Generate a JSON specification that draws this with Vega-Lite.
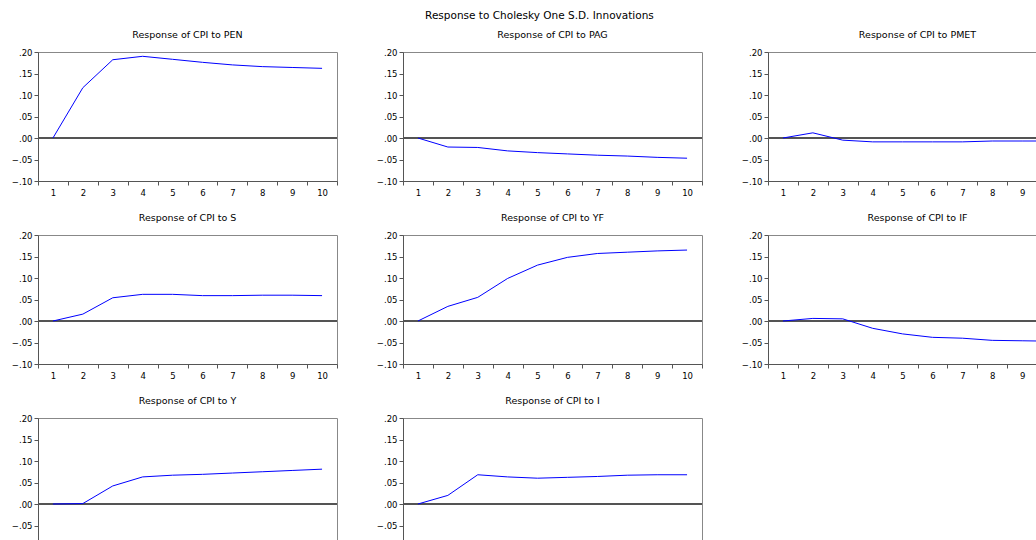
{
  "$schema": "https://vega.github.io/schema/vega-lite/v6.json",
  "padding": {"left": 10, "top": 10, "right": 0, "bottom": 0},
  "background": "white",
  "title": {"text": "Response to Cholesky One S.D. Innovations", "anchor": "middle", "fontSize": 10.5, "fontWeight": "normal", "font": "DejaVu Sans", "color": "#000", "offset": 8},
  "data": {"values": [
    {"shock": "PEN", "step": 1, "value": 0.000}, {"shock": "PEN", "step": 2, "value": 0.117}, {"shock": "PEN", "step": 3, "value": 0.182}, {"shock": "PEN", "step": 4, "value": 0.190}, {"shock": "PEN", "step": 5, "value": 0.183}, {"shock": "PEN", "step": 6, "value": 0.176}, {"shock": "PEN", "step": 7, "value": 0.170}, {"shock": "PEN", "step": 8, "value": 0.166}, {"shock": "PEN", "step": 9, "value": 0.164}, {"shock": "PEN", "step": 10, "value": 0.162},
    {"shock": "PAG", "step": 1, "value": 0.000}, {"shock": "PAG", "step": 2, "value": -0.021}, {"shock": "PAG", "step": 3, "value": -0.022}, {"shock": "PAG", "step": 4, "value": -0.030}, {"shock": "PAG", "step": 5, "value": -0.034}, {"shock": "PAG", "step": 6, "value": -0.037}, {"shock": "PAG", "step": 7, "value": -0.040}, {"shock": "PAG", "step": 8, "value": -0.042}, {"shock": "PAG", "step": 9, "value": -0.045}, {"shock": "PAG", "step": 10, "value": -0.047},
    {"shock": "PMET", "step": 1, "value": 0.000}, {"shock": "PMET", "step": 2, "value": 0.012}, {"shock": "PMET", "step": 3, "value": -0.005}, {"shock": "PMET", "step": 4, "value": -0.009}, {"shock": "PMET", "step": 5, "value": -0.009}, {"shock": "PMET", "step": 6, "value": -0.009}, {"shock": "PMET", "step": 7, "value": -0.009}, {"shock": "PMET", "step": 8, "value": -0.007}, {"shock": "PMET", "step": 9, "value": -0.007}, {"shock": "PMET", "step": 10, "value": -0.007},
    {"shock": "S", "step": 1, "value": 0.000}, {"shock": "S", "step": 2, "value": 0.016}, {"shock": "S", "step": 3, "value": 0.054}, {"shock": "S", "step": 4, "value": 0.062}, {"shock": "S", "step": 5, "value": 0.062}, {"shock": "S", "step": 6, "value": 0.059}, {"shock": "S", "step": 7, "value": 0.059}, {"shock": "S", "step": 8, "value": 0.060}, {"shock": "S", "step": 9, "value": 0.060}, {"shock": "S", "step": 10, "value": 0.059},
    {"shock": "YF", "step": 1, "value": 0.000}, {"shock": "YF", "step": 2, "value": 0.034}, {"shock": "YF", "step": 3, "value": 0.055}, {"shock": "YF", "step": 4, "value": 0.099}, {"shock": "YF", "step": 5, "value": 0.130}, {"shock": "YF", "step": 6, "value": 0.148}, {"shock": "YF", "step": 7, "value": 0.157}, {"shock": "YF", "step": 8, "value": 0.160}, {"shock": "YF", "step": 9, "value": 0.163}, {"shock": "YF", "step": 10, "value": 0.165},
    {"shock": "IF", "step": 1, "value": 0.000}, {"shock": "IF", "step": 2, "value": 0.006}, {"shock": "IF", "step": 3, "value": 0.005}, {"shock": "IF", "step": 4, "value": -0.017}, {"shock": "IF", "step": 5, "value": -0.030}, {"shock": "IF", "step": 6, "value": -0.038}, {"shock": "IF", "step": 7, "value": -0.040}, {"shock": "IF", "step": 8, "value": -0.045}, {"shock": "IF", "step": 9, "value": -0.046}, {"shock": "IF", "step": 10, "value": -0.047},
    {"shock": "Y", "step": 1, "value": 0.000}, {"shock": "Y", "step": 2, "value": 0.001}, {"shock": "Y", "step": 3, "value": 0.042}, {"shock": "Y", "step": 4, "value": 0.063}, {"shock": "Y", "step": 5, "value": 0.067}, {"shock": "Y", "step": 6, "value": 0.069}, {"shock": "Y", "step": 7, "value": 0.072}, {"shock": "Y", "step": 8, "value": 0.075}, {"shock": "Y", "step": 9, "value": 0.078}, {"shock": "Y", "step": 10, "value": 0.081},
    {"shock": "I", "step": 1, "value": 0.000}, {"shock": "I", "step": 2, "value": 0.020}, {"shock": "I", "step": 3, "value": 0.068}, {"shock": "I", "step": 4, "value": 0.063}, {"shock": "I", "step": 5, "value": 0.060}, {"shock": "I", "step": 6, "value": 0.062}, {"shock": "I", "step": 7, "value": 0.064}, {"shock": "I", "step": 8, "value": 0.067}, {"shock": "I", "step": 9, "value": 0.068}, {"shock": "I", "step": 10, "value": 0.068}
  ]},
  "facet": {"field": "shock", "type": "nominal", "sort": ["PEN", "PAG", "PMET", "S", "YF", "IF", "Y", "I"],
    "header": {"title": null, "labelExpr": "'Response of CPI to ' + datum.value", "labelFont": "DejaVu Sans", "labelFontSize": 9.5, "labelFontWeight": "normal", "labelColor": "#000", "labelPadding": 9}},
  "columns": 3,
  "spacing": {"column": 37, "row": 15},
  "resolve": {"axis": {"x": "independent", "y": "independent"}},
  "spec": {
    "width": 299,
    "height": 129,
    "layer": [
      {"mark": {"type": "rule", "color": "#555", "strokeWidth": 1},
       "encoding": {"y": {"datum": 0, "type": "quantitative", "scale": {"domain": [-0.1, 0.2], "nice": false, "zero": false},
         "axis": {"title": null, "values": [-0.1, -0.05, 0, 0.05, 0.1, 0.15, 0.2], "labelOverlap": false, "labelExpr": "replace(format(datum.value, '.2f'), '0.', '.')", "labelFont": "DejaVu Sans", "labelFontSize": 8.5, "labelColor": "#000", "tickSize": 4, "tickColor": "#555", "domainColor": "#555", "grid": false, "labelPadding": 2}}}},
      {"mark": {"type": "line", "color": "#0000ff", "strokeWidth": 1},
       "encoding": {
         "x": {"field": "step", "type": "ordinal", "scale": {"type": "band", "paddingInner": 0, "paddingOuter": 0},
               "axis": {"title": null, "labelAngle": 0, "tickBand": "extent", "labelFont": "DejaVu Sans", "labelFontSize": 8.5, "labelColor": "#000", "tickSize": 4, "tickColor": "#555", "domainColor": "#555", "labelPadding": 3}},
         "y": {"field": "value", "type": "quantitative", "scale": {"domain": [-0.1, 0.2], "nice": false, "zero": false},
               "axis": {"title": null, "values": [-0.1, -0.05, 0, 0.05, 0.1, 0.15, 0.2], "labelOverlap": false, "labelExpr": "replace(format(datum.value, '.2f'), '0.', '.')", "labelFont": "DejaVu Sans", "labelFontSize": 8.5, "labelColor": "#000", "tickSize": 4, "tickColor": "#555", "domainColor": "#555", "grid": false, "labelPadding": 2}}
       }}
    ]
  },
  "config": {"view": {"stroke": "#888", "strokeWidth": 1}}
}
